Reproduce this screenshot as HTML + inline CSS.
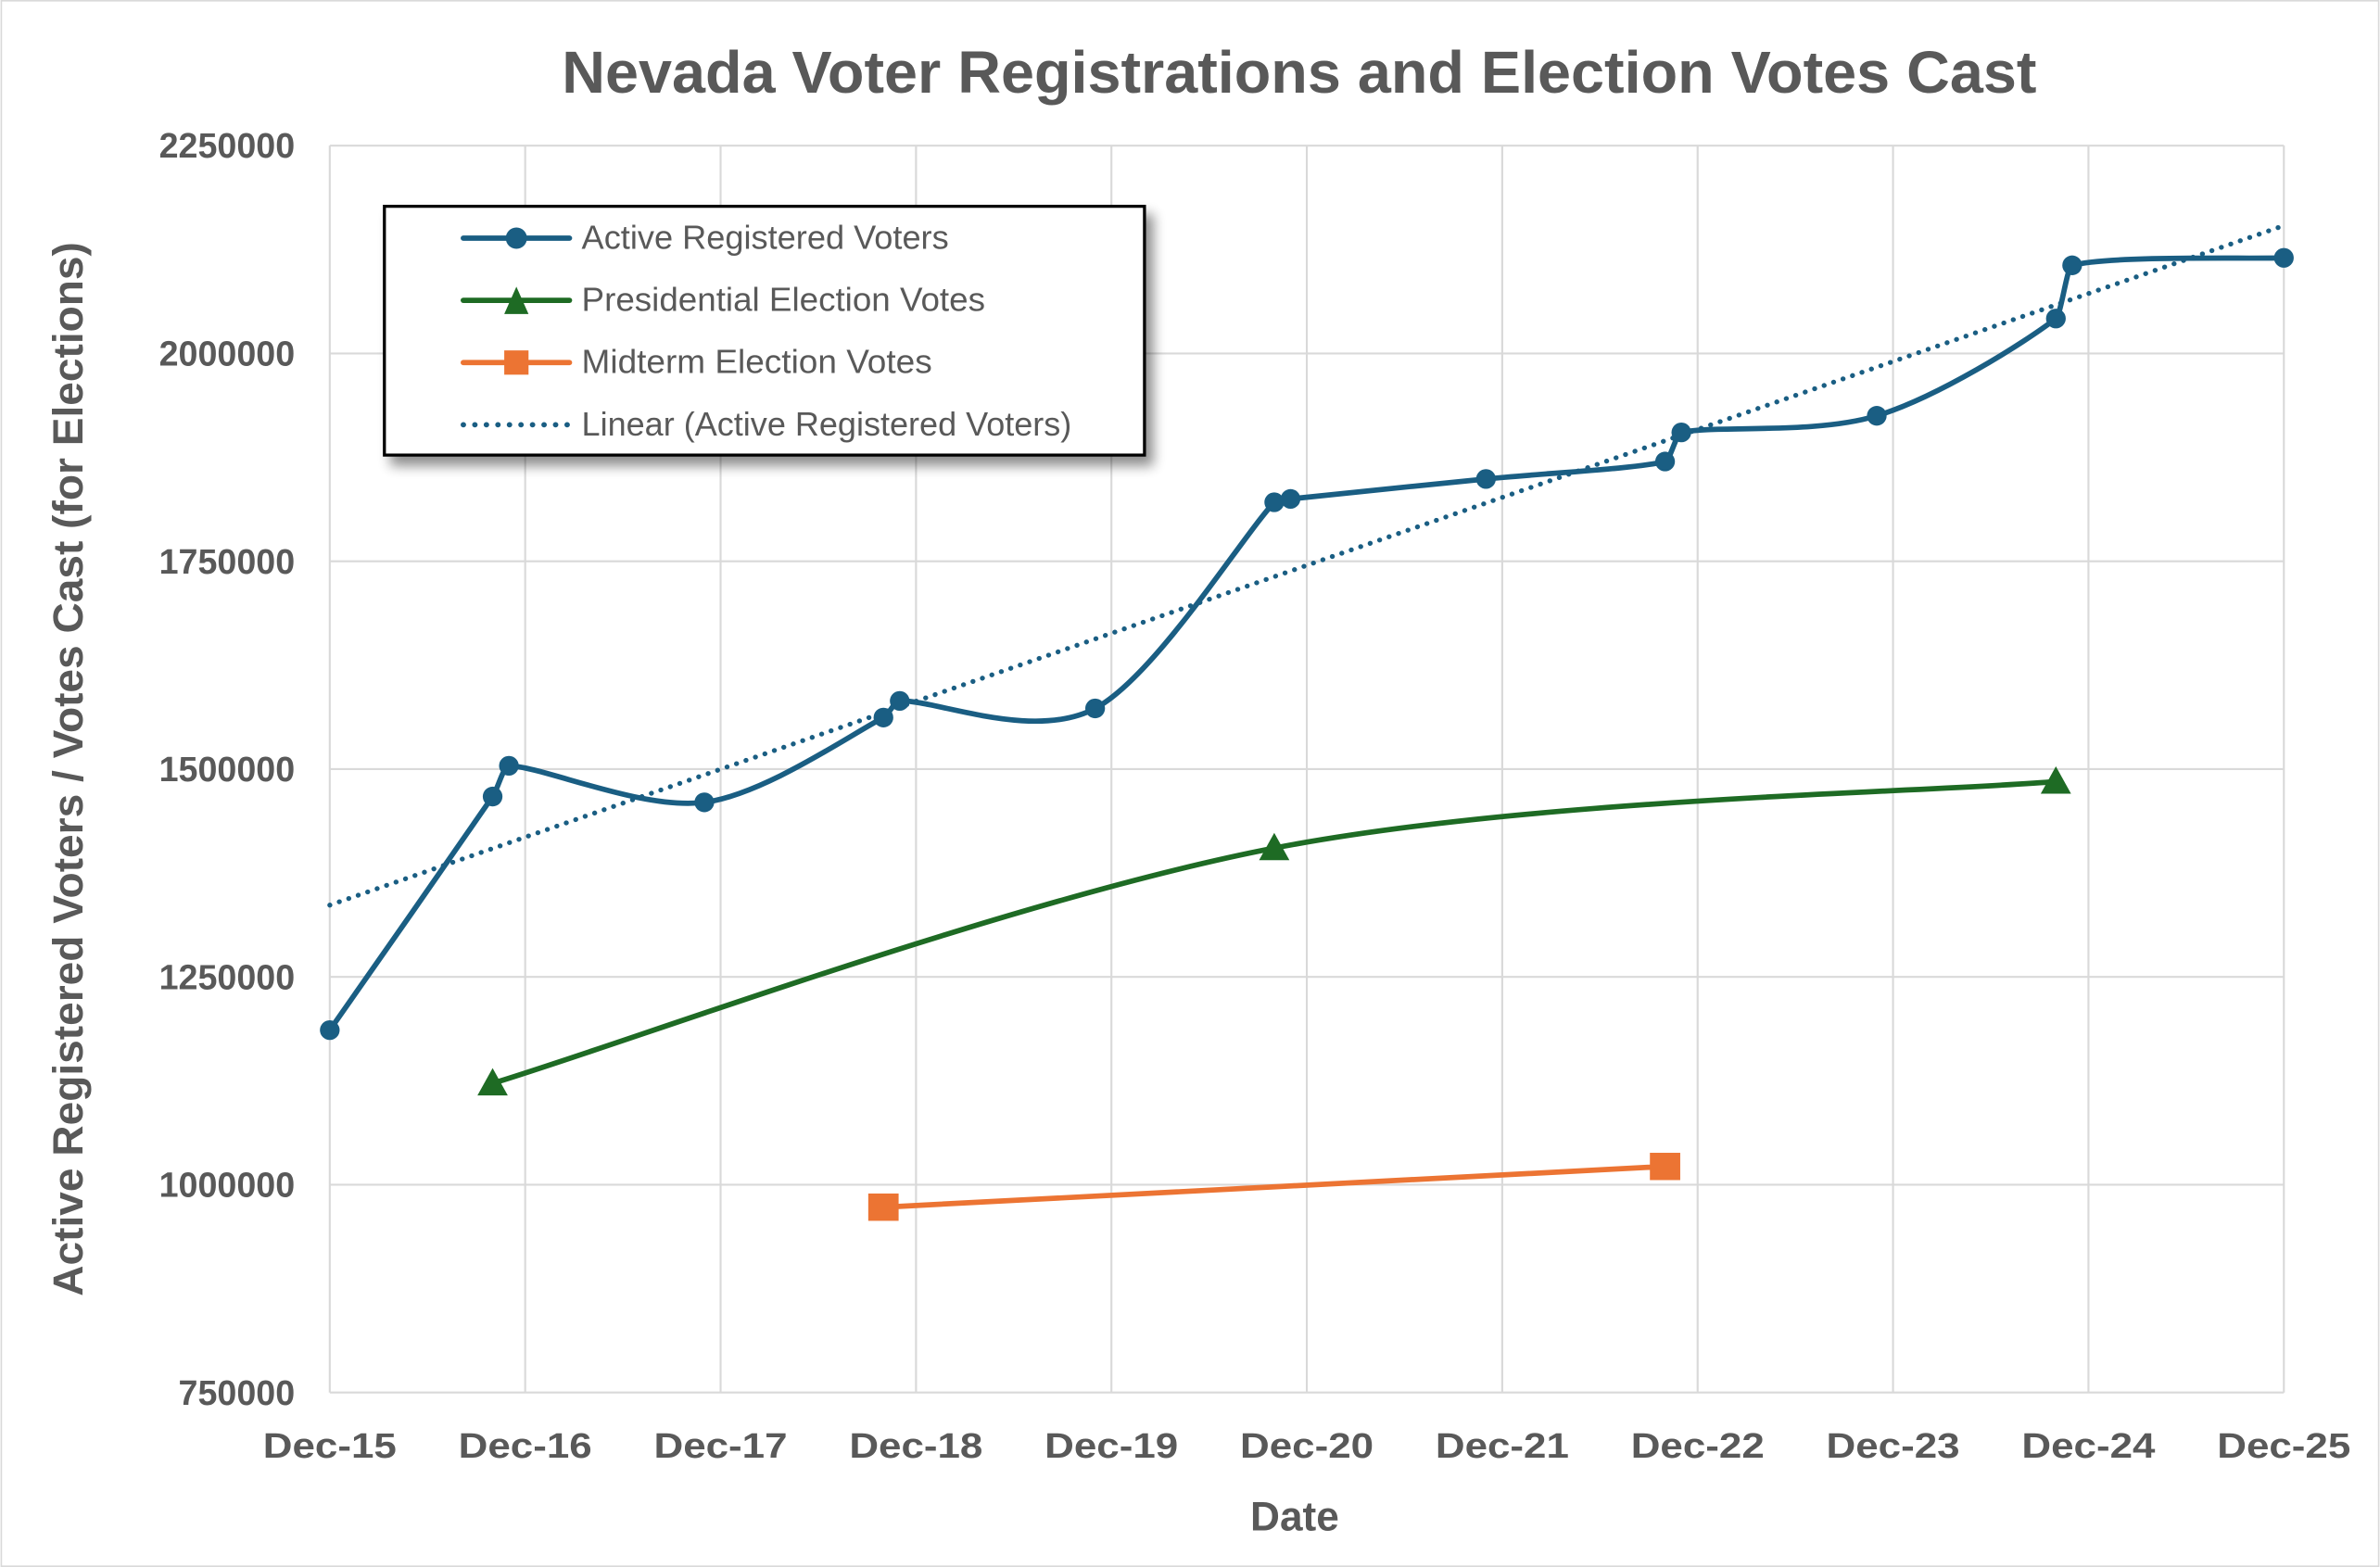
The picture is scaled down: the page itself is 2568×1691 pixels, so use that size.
<!DOCTYPE html>
<html><head><meta charset="utf-8"><style>
html,body{margin:0;padding:0;background:#fff}
svg{display:block}
text{font-family:"Liberation Sans",sans-serif}
</style></head><body>
<svg id="chart" width="2568" height="1691" viewBox="0 0 1568 1033" xmlns="http://www.w3.org/2000/svg">
<defs>
<filter id="sh" x="-10%" y="-10%" width="130%" height="140%"><feGaussianBlur in="SourceAlpha" stdDeviation="4"/><feOffset dx="5" dy="6"/><feComponentTransfer><feFuncA type="linear" slope="0.45"/></feComponentTransfer><feMerge><feMergeNode/><feMergeNode in="SourceGraphic"/></feMerge></filter>
</defs>
<rect x="0.5" y="0.5" width="1567" height="1032" fill="#fff" stroke="#d9d9d9"/>
<text x="856" y="61" text-anchor="middle" font-size="39" font-weight="bold" fill="#595959" textLength="972" lengthAdjust="spacingAndGlyphs">Nevada Voter Registrations and Election Votes Cast</text>
<g id="grid"></g>
<g id="ticks"></g>
<text transform="translate(54,507) rotate(-90)" text-anchor="middle" font-size="28" font-weight="bold" fill="#595959" textLength="695" lengthAdjust="spacingAndGlyphs">Active Registered Voters / Votes Cast (for Elections)</text>
<text x="853" y="1009" text-anchor="middle" font-size="27" font-weight="bold" fill="#595959">Date</text>
<g id="series"></g>
<g filter="url(#sh)">
<rect x="253" y="136" width="501" height="164" fill="#fff" stroke="#000" stroke-width="2"/>
</g>
<g font-size="22" fill="#595959">
<g><line x1="305" y1="157" x2="375" y2="157" stroke="#1a5e83" stroke-width="3.5" stroke-linecap="round"/><circle cx="340" cy="157" r="7" fill="#1a5e83"/><text x="383" y="164" fill="#595959" textLength="242" lengthAdjust="spacingAndGlyphs">Active Registered Voters</text></g>
<g><line x1="305" y1="198" x2="375" y2="198" stroke="#1e6b24" stroke-width="3.5" stroke-linecap="round"/><polygon points="340,189 348,207 332,207" fill="#1e6b24"/><text x="383" y="205" fill="#595959" textLength="266" lengthAdjust="spacingAndGlyphs">Presidential Election Votes</text></g>
<g><line x1="305" y1="239" x2="375" y2="239" stroke="#ec7433" stroke-width="3.5" stroke-linecap="round"/><rect x="332" y="231" width="16" height="16" fill="#ec7433"/><text x="383" y="246" fill="#595959" textLength="231" lengthAdjust="spacingAndGlyphs">Midterm Election Votes</text></g>
<g><line x1="305" y1="280" x2="375" y2="280" stroke="#1a5e83" stroke-width="3.5" stroke-dasharray="0.1 7.5" stroke-linecap="round"/><text x="383" y="287" fill="#595959" textLength="323" lengthAdjust="spacingAndGlyphs">Linear (Active Registered Voters)</text></g>
</g>
</svg>
<script>
const activeDates = ["2015-12","2016-10","2016-11","2017-11","2018-10","2018-11","2019-11","2020-10","2020-11","2021-11","2022-10","2022-11","2023-11","2024-10","2024-11","2025-12"];
const activeValues = [1186000,1467000,1504000,1460000,1562000,1582000,1573000,1821000,1825000,1849000,1870000,1905000,1925000,2042000,2106000,2115000];
const presDates = ["2016-10","2020-10","2024-10"];
const presValues = [1122000,1405000,1485000];
const midDates = ["2018-10","2022-10"];
const midValues = [973000,1022000];
const yTicks = [750000,1000000,1250000,1500000,1750000,2000000,2250000];
const xTickLabels = ["Dec-15","Dec-16","Dec-17","Dec-18","Dec-19","Dec-20","Dec-21","Dec-22","Dec-23","Dec-24","Dec-25"];

const NS="http://www.w3.org/2000/svg";
const X0=217,X1=1505,Y0=918,Y1=96,YMIN=750000,YMAX=2250000;
function months(d){const [y,m]=d.split("-").map(Number);return (y-2015)*12+(m-12);}
function xs(d){return X0+(months(d)/120)*(X1-X0);}
function xm(m){return X0+(m/120)*(X1-X0);}
function ys(v){return Y0-(v-YMIN)/(YMAX-YMIN)*(Y0-Y1);}
function mk(tag,attrs,parent){const e=document.createElementNS(NS,tag);for(const k in attrs)e.setAttribute(k,attrs[k]);parent.appendChild(e);return e;}

const grid=document.getElementById("grid"),ticks=document.getElementById("ticks"),ser=document.getElementById("series");
yTicks.forEach(v=>{
  const l=mk("line",{x1:X0,x2:X1,y1:ys(v),y2:ys(v),stroke:"#d9d9d9","stroke-width":1.3},grid);
  
  
  const t=mk("text",{x:194,y:ys(v)+8,"text-anchor":"end","font-size":23,"font-weight":"bold",fill:"#595959"},ticks);
  t.textContent=String(v);
  
  
});
xTickLabels.forEach((lab,i)=>{
  const x=xm(i*12);
  const l=mk("line",{x1:x,x2:x,y1:Y1,y2:Y0,stroke:"#d9d9d9","stroke-width":1.3},grid);
  
  
  const t=mk("text",{x:x,y:961,"text-anchor":"middle","font-size":23,"font-weight":"bold",fill:"#595959",textLength:88,lengthAdjust:"spacingAndGlyphs"},ticks);
  t.textContent=lab;
  
  
});

function smooth(pts){
  let d="M"+pts[0][0]+","+pts[0][1];
  for(let i=0;i<pts.length-1;i++){
    const p0=pts[Math.max(i-1,0)],p1=pts[i],p2=pts[i+1],p3=pts[Math.min(i+2,pts.length-1)];
    const dx=p2[0]-p1[0];
    let t1=[(p2[0]-p0[0])/6,(p2[1]-p0[1])/6];
    let t2=[(p3[0]-p1[0])/6,(p3[1]-p1[1])/6];
    const lim=dx/3;
    if(t1[0]>lim){const s=lim/t1[0];t1=[t1[0]*s,t1[1]*s];}
    if(t2[0]>lim){const s=lim/t2[0];t2=[t2[0]*s,t2[1]*s];}
    const c1=[p1[0]+t1[0],p1[1]+t1[1]];
    const c2=[p2[0]-t2[0],p2[1]-t2[1]];
    d+=" C"+c1+" "+c2+" "+p2;
  }
  return d;
}

const mx=activeDates.map(months);
const n=mx.length,sx=mx.reduce((a,b)=>a+b,0),sy=activeValues.reduce((a,b)=>a+b,0);
const sxx=mx.reduce((a,b)=>a+b*b,0),sxy=mx.reduce((a,b,i)=>a+b*activeValues[i],0);
const slope=(n*sxy-sx*sy)/(n*sxx-sx*sx),icpt=(sy-slope*sx)/n;
const tr=mk("line",{x1:xm(0),y1:ys(icpt),x2:xm(120),y2:ys(icpt+slope*120),stroke:"#1a5e83","stroke-width":3.2,"stroke-dasharray":"0.1 6.5","stroke-linecap":"round"},ser);



function series(dates,vals,color,name,marker){
  const pts=dates.map((d,i)=>[xs(d),ys(vals[i])]);
  const p=mk("path",{d:smooth(pts),fill:"none",stroke:color,"stroke-width":3.5},ser);
  
  
  pts.forEach(([x,y])=>{
    let m;
    if(marker==="c") m=mk("circle",{cx:x,cy:y,r:6.5,fill:color},ser);
    else if(marker==="t") m=mk("polygon",{points:`${x},${y-10} ${x+10},${y+8} ${x-10},${y+8}`,fill:color},ser);
    else m=mk("rect",{x:x-10,y:y-9,width:20,height:18,fill:color},ser);
    
    
  });
}
series(activeDates,activeValues,"#1a5e83","active-voters","c");
series(presDates,presValues,"#1e6b24","presidential-votes","t");
series(midDates,midValues,"#ec7433","midterm-votes","s");
</script>
</body></html>
